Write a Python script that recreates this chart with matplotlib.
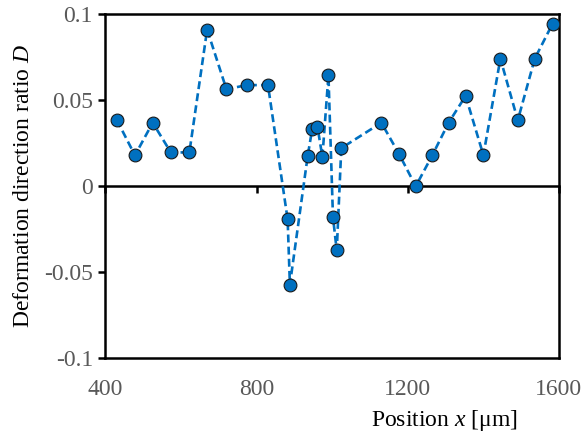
import matplotlib
matplotlib.use('Agg')
import matplotlib.pyplot as plt

# Position along the sample [um] and deformation direction ratio D
position = [430, 478, 525, 573, 622, 669, 720, 774, 830, 882, 888, 935, 947, 961,
            974, 990, 1002, 1012, 1024, 1130, 1177, 1221, 1265, 1308, 1353, 1400,
            1445, 1491, 1536, 1583]
ratio_d = [0.0386, 0.018, 0.037, 0.0197, 0.0197, 0.0912, 0.0565, 0.0589, 0.0589,
           -0.0193, -0.0573, 0.0175, 0.0333, 0.0345, 0.0171, 0.0645, -0.018,
           -0.0374, 0.0222, 0.037, 0.0187, 0.0, 0.0181, 0.037, 0.0526, 0.0181,
           0.0743, 0.0384, 0.0743, 0.0946]

x_ticks = [400, 800, 1200, 1600]
y_ticks = [-0.1, -0.05, 0, 0.05, 0.1]
y_tick_labels = ['-0.1', '-0.05', '0', '0.05', '0.1']

plt.rcParams['font.family'] = ['Liberation Serif', 'DejaVu Serif']
plt.rcParams['mathtext.fontset'] = 'custom'
plt.rcParams['mathtext.rm'] = 'Liberation Serif'
plt.rcParams['mathtext.it'] = 'Liberation Serif:italic'

fig = plt.figure(figsize=(5.85, 4.38), dpi=100)
ax = fig.add_axes([0.1803, 0.1826, 0.7752, 0.7843])

ax.plot(position, ratio_d, linestyle='--', color='#0070C0', linewidth=1.9,
        dashes=(3, 1.6), marker='o', markersize=9.2, markerfacecolor='#0070C0',
        markeredgecolor='#1a1a1a', markeredgewidth=0.8, zorder=3)

ax.set_xlim(400, 1600)
ax.set_ylim(-0.1, 0.1)

for sp in ax.spines.values():
    sp.set_linewidth(1.8)

ax.set_yticks(y_ticks)
ax.set_yticklabels(y_tick_labels)
ax.set_xticks(x_ticks)
ax.tick_params(axis='y', direction='out', length=5, width=1.8, pad=4,
               labelsize=17, labelcolor='#595959')
ax.tick_params(axis='x', length=0, pad=15, labelsize=17, labelcolor='#595959')

# horizontal axis crossing at zero, with its own tick marks
zero_axis = ax.secondary_xaxis(0.5)
zero_axis.set_xticks(x_ticks)
for sp in zero_axis.spines.values():
    sp.set_linewidth(1.8)
zero_axis.tick_params(direction='in', length=5, width=1.8,
                      labeltop=False, labelbottom=False)

ax.set_ylabel('Deformation direction ratio $D$', fontsize=17, labelpad=7)
fig.text(0.76, 0.04, 'Position $x$ [μm]', fontsize=17, ha='center', va='center')

fig.savefig('out.png', dpi=100)
